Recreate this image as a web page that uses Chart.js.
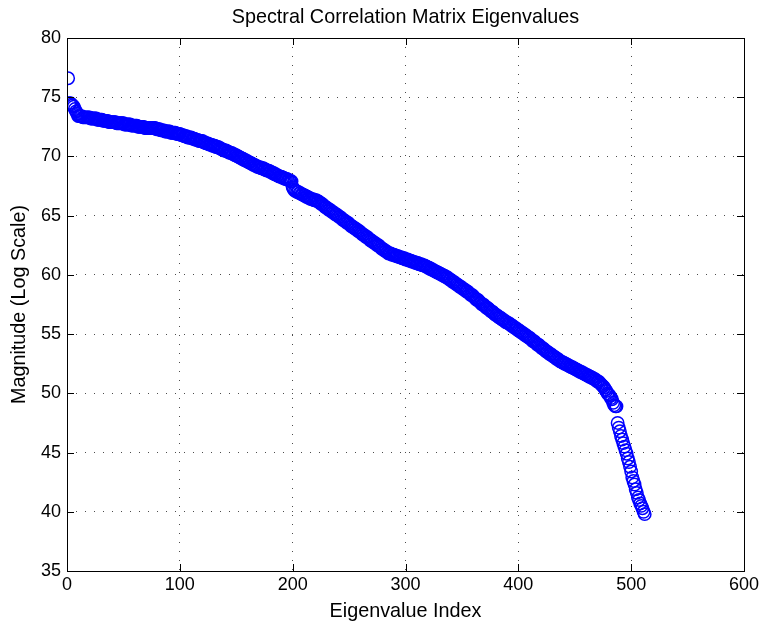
<!DOCTYPE html>
<html>
<head>
<meta charset="utf-8">
<script src="https://cdn.jsdelivr.net/npm/chart.js@4/dist/chart.umd.min.js"></script>
<style>
  body { margin: 0; background: #fff; }
  #wrap { width: 761px; height: 629px; }
</style>
</head>
<body>
<div id="wrap"><canvas id="eig-chart"></canvas></div>
<script>
var chartTitle = 'Spectral Correlation Matrix Eigenvalues';
var xTitle = 'Eigenvalue Index';
var yTitle = 'Magnitude (Log Scale)';
var xTicks = [0, 100, 200, 300, 400, 500, 600];
var yTicks = [35, 40, 45, 50, 55, 60, 65, 70, 75, 80];

// eigenvalue magnitudes, index 1..512
var magnitudes = [
  76.6, 74.5, 74.5, 74.4, 74.3, 74.2, 74.0, 73.8, 73.6, 73.4,
  73.4, 73.4, 73.4, 73.3, 73.3, 73.3, 73.3, 73.3, 73.3, 73.3,
  73.2, 73.2, 73.2, 73.2, 73.2, 73.2, 73.1, 73.1, 73.1, 73.1,
  73.1, 73.0, 73.0, 73.0, 73.0, 73.0, 72.9, 72.9, 72.9, 72.9,
  72.9, 72.9, 72.9, 72.8, 72.8, 72.8, 72.8, 72.8, 72.8, 72.8,
  72.7, 72.7, 72.7, 72.7, 72.7, 72.7, 72.6, 72.6, 72.6, 72.6,
  72.6, 72.6, 72.5, 72.5, 72.5, 72.5, 72.5, 72.5, 72.4, 72.4,
  72.4, 72.4, 72.4, 72.4, 72.4, 72.4, 72.4, 72.4, 72.3, 72.3,
  72.3, 72.3, 72.2, 72.2, 72.2, 72.2, 72.1, 72.1, 72.1, 72.1,
  72.1, 72.0, 72.0, 72.0, 72.0, 72.0, 71.9, 71.9, 71.9, 71.9,
  71.8, 71.8, 71.8, 71.7, 71.7, 71.7, 71.6, 71.6, 71.6, 71.6,
  71.5, 71.5, 71.5, 71.4, 71.4, 71.4, 71.3, 71.3, 71.3, 71.3,
  71.2, 71.2, 71.1, 71.1, 71.1, 71.0, 71.0, 71.0, 70.9, 70.9,
  70.9, 70.8, 70.8, 70.8, 70.7, 70.7, 70.6, 70.6, 70.5, 70.5,
  70.5, 70.4, 70.4, 70.3, 70.3, 70.3, 70.2, 70.2, 70.1, 70.1,
  70.0, 70.0, 69.9, 69.9, 69.8, 69.8, 69.7, 69.7, 69.6, 69.6,
  69.5, 69.5, 69.4, 69.4, 69.3, 69.3, 69.2, 69.2, 69.1, 69.1,
  69.1, 69.0, 69.0, 69.0, 68.9, 68.9, 68.8, 68.8, 68.8, 68.7,
  68.7, 68.6, 68.6, 68.5, 68.5, 68.4, 68.4, 68.3, 68.3, 68.3,
  68.2, 68.2, 68.1, 68.1, 68.1, 68.0, 68.0, 67.9, 67.9, 67.4,
  67.2, 67.1, 67.1, 67.0, 67.0, 66.9, 66.9, 66.8, 66.8, 66.7,
  66.7, 66.6, 66.6, 66.5, 66.5, 66.4, 66.4, 66.4, 66.3, 66.3,
  66.3, 66.2, 66.2, 66.1, 66.0, 66.0, 65.9, 65.8, 65.7, 65.7,
  65.6, 65.5, 65.5, 65.4, 65.3, 65.3, 65.2, 65.1, 65.1, 65.0,
  64.9, 64.9, 64.8, 64.7, 64.6, 64.6, 64.5, 64.4, 64.4, 64.3,
  64.2, 64.1, 64.1, 64.0, 63.9, 63.9, 63.8, 63.7, 63.7, 63.6,
  63.5, 63.4, 63.4, 63.3, 63.2, 63.2, 63.1, 63.0, 62.9, 62.9,
  62.8, 62.7, 62.7, 62.6, 62.5, 62.5, 62.4, 62.3, 62.2, 62.2,
  62.1, 62.0, 62.0, 61.9, 61.8, 61.8, 61.8, 61.7, 61.7, 61.7,
  61.6, 61.6, 61.6, 61.5, 61.5, 61.5, 61.4, 61.4, 61.4, 61.3,
  61.3, 61.3, 61.2, 61.2, 61.2, 61.1, 61.1, 61.1, 61.0, 61.0,
  61.0, 60.9, 60.9, 60.9, 60.8, 60.8, 60.8, 60.7, 60.7, 60.6,
  60.6, 60.5, 60.5, 60.4, 60.4, 60.3, 60.3, 60.2, 60.2, 60.1,
  60.1, 60.0, 60.0, 59.9, 59.9, 59.8, 59.8, 59.7, 59.6, 59.6,
  59.5, 59.4, 59.4, 59.3, 59.2, 59.2, 59.1, 59.0, 59.0, 58.9,
  58.8, 58.8, 58.7, 58.6, 58.6, 58.5, 58.4, 58.3, 58.3, 58.2,
  58.1, 58.0, 57.9, 57.9, 57.8, 57.7, 57.6, 57.5, 57.5, 57.4,
  57.3, 57.2, 57.2, 57.1, 57.0, 56.9, 56.9, 56.8, 56.7, 56.6,
  56.6, 56.5, 56.4, 56.4, 56.3, 56.2, 56.2, 56.1, 56.0, 56.0,
  55.9, 55.9, 55.8, 55.7, 55.7, 55.6, 55.5, 55.5, 55.4, 55.3,
  55.3, 55.2, 55.1, 55.1, 55.0, 54.9, 54.9, 54.8, 54.7, 54.7,
  54.6, 54.5, 54.4, 54.4, 54.3, 54.2, 54.1, 54.1, 54.0, 53.9,
  53.8, 53.8, 53.7, 53.6, 53.5, 53.5, 53.4, 53.3, 53.3, 53.2,
  53.1, 53.1, 53.0, 52.9, 52.9, 52.8, 52.7, 52.7, 52.6, 52.6,
  52.5, 52.5, 52.4, 52.4, 52.3, 52.3, 52.2, 52.2, 52.1, 52.1,
  52.0, 52.0, 51.9, 51.9, 51.8, 51.8, 51.7, 51.7, 51.6, 51.6,
  51.5, 51.5, 51.4, 51.4, 51.3, 51.3, 51.2, 51.2, 51.1, 51.0,
  51.0, 50.9, 50.8, 50.7, 50.6, 50.5, 50.3, 50.2, 50.0, 49.9,
  49.8, 49.6, 49.5, 49.2, 49.0, 48.9, 48.9, 47.5, 47.1, 46.8,
  46.4, 46.1, 45.8, 45.5, 45.2, 44.9, 44.5, 44.2, 43.8, 43.4,
  42.9, 42.6, 42.3, 41.9, 41.6, 41.2, 41.0, 40.7, 40.5, 40.3,
  40.0, 39.8
];

var points = magnitudes.map(function (v, i) {
    return { x: i + 1, y: v };
});

var font = 'Liberation Sans, Arial, Helvetica, sans-serif';

// black box round the plot, MATLAB-style inward ticks, title centred on the axes
var framePlugin = {
    id: 'frame',
    afterDatasetsDraw: function (chart) {
        var ctx = chart.ctx;
        var a = chart.chartArea;
        var xs = chart.scales.x, ys = chart.scales.y;
        var len = 7;
        ctx.save();
        ctx.strokeStyle = '#000';
        ctx.lineWidth = 1;
        ctx.beginPath();
        xTicks.forEach(function (t) {
            var px = Math.round(xs.getPixelForValue(t)) + 0.5;
            ctx.moveTo(px, a.bottom); ctx.lineTo(px, a.bottom - len);
            ctx.moveTo(px, a.top); ctx.lineTo(px, a.top + len);
        });
        yTicks.forEach(function (t) {
            var py = Math.round(ys.getPixelForValue(t)) + 0.5;
            ctx.moveTo(a.left, py); ctx.lineTo(a.left + len, py);
            ctx.moveTo(a.right, py); ctx.lineTo(a.right - len, py);
        });
        ctx.stroke();
        ctx.strokeRect(Math.round(a.left) + 0.5, Math.round(a.top) + 0.5,
            Math.round(a.right - a.left), Math.round(a.bottom - a.top));

        ctx.fillStyle = '#000';
        ctx.font = '19.8px ' + font;
        ctx.textAlign = 'center';
        ctx.textBaseline = 'middle';
        ctx.fillText(chartTitle, (a.left + a.right) / 2, 18);
        ctx.restore();
    }
};

var ctx = document.getElementById('eig-chart').getContext('2d');
var chart = new Chart(ctx, {
    type: 'scatter',
    data: {
        datasets: [{
            label: 'eigenvalues',
            data: points,
            pointStyle: 'circle',
            pointRadius: 6.2,
            pointBorderWidth: 1.5,
            pointBorderColor: '#0000ff',
            pointBackgroundColor: 'rgba(0,0,0,0)',
            showLine: false
        }]
    },
    plugins: [framePlugin],
    options: {
        responsive: true,
        maintainAspectRatio: false,
        animation: false,
        layout: {
            padding: { top: 38, left: 0, right: 17, bottom: 0 }
        },
        plugins: {
            legend: { display: false },
            tooltip: { enabled: false },
            title: { display: false }
        },
        scales: {
            x: {
                type: 'linear',
                min: 0,
                max: 600,
                ticks: {
                    stepSize: 100,
                    color: '#000',
                    padding: 3,
                    font: { family: font, size: 18 }
                },
                grid: {
                    color: 'rgba(0,0,0,0.7)',
                    lineWidth: 1,
                    drawTicks: false
                },
                border: { display: false, dash: [1, 8] },
                title: {
                    display: true,
                    text: xTitle,
                    color: '#000',
                    font: { family: font, size: 19.8 },
                    padding: { top: 0, bottom: 6 }
                },
                afterFit: function (scale) {
                    scale.height = 58;
                    scale.paddingLeft = 0;
                    scale.paddingRight = 0;
                }
            },
            y: {
                type: 'linear',
                min: 35,
                max: 80,
                ticks: {
                    stepSize: 5,
                    color: '#000',
                    padding: 6,
                    font: { family: font, size: 18 }
                },
                grid: {
                    color: 'rgba(0,0,0,0.7)',
                    lineWidth: 1,
                    drawTicks: false
                },
                border: { display: false, dash: [1, 8] },
                title: {
                    display: true,
                    text: yTitle,
                    color: '#000',
                    font: { family: font, size: 19.8 },
                    padding: { top: 8, bottom: 0 }
                },
                afterFit: function (scale) {
                    scale.width = 67;
                    scale.paddingTop = 0;
                    scale.paddingBottom = 0;
                }
            }
        }
    }
});
</script>
</body>
</html>
